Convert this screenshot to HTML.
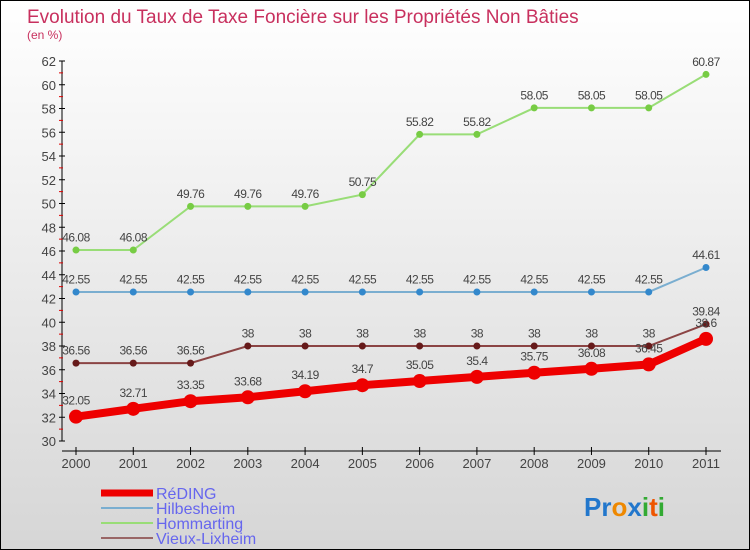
<!DOCTYPE html>
<html><head><meta charset="utf-8"><style>
body{margin:0}
#c{width:748px;height:548px;border:1px solid #000;background:linear-gradient(#fff,#d6d6d6);position:relative;font-family:"Liberation Sans",sans-serif;overflow:hidden}
</style></head><body>
<div id="c">
<svg id="s" width="748" height="548" style="position:absolute;left:0;top:0">
<text x="26" y="22" font-size="19" fill="#c8305e">Evolution du Taux de Taxe Foncière sur les Propriétés Non Bâties</text>
<text x="26" y="38" font-size="12" fill="#c8305e">(en %)</text>
<g id="axes"></g><g id="series"></g>
<g>
<line x1="100" y1="492" x2="152" y2="492" stroke="#e00" stroke-width="7"/>
<text x="155" y="498" font-size="16" fill="#6666ee">RéDING</text>
<line x1="100" y1="507" x2="152" y2="507" stroke="#7aaed0" stroke-width="2"/>
<text x="155" y="513" font-size="16" fill="#6666ee">Hilbesheim</text>
<line x1="100" y1="522" x2="152" y2="522" stroke="#99dd77" stroke-width="2"/>
<text x="155" y="528" font-size="16" fill="#6666ee">Hommarting</text>
<line x1="100" y1="537" x2="152" y2="537" stroke="#996666" stroke-width="2"/>
<text x="155" y="543" font-size="16" fill="#6666ee">Vieux-Lixheim</text>
</g>
<text x="583" y="515" font-size="26" font-weight="bold"><tspan fill="#2277cc">Pr</tspan><tspan fill="#ee8800">o</tspan><tspan fill="#2277cc">x</tspan><tspan fill="#33aa33">i</tspan><tspan fill="#ee5500">t</tspan><tspan fill="#33aa33">i</tspan></text>
</svg></div>
<script>
const years=[2000,2001,2002,2003,2004,2005,2006,2007,2008,2009,2010,2011];
const reding=[32.05,32.71,33.35,33.68,34.19,34.7,35.05,35.4,35.75,36.08,36.45,38.6];
const hilbesheim=[42.55,42.55,42.55,42.55,42.55,42.55,42.55,42.55,42.55,42.55,42.55,44.61];
const hommarting=[46.08,46.08,49.76,49.76,49.76,50.75,55.82,55.82,58.05,58.05,58.05,60.87];
const vieux=[36.56,36.56,36.56,38,38,38,38,38,38,38,38,39.84];
const yTicks=[30,32,34,36,38,40,42,44,46,48,50,52,54,56,58,60,62];
const NS='http://www.w3.org/2000/svg';
const X=i=>75+i*(630/11), Y=v=>440-(v-30)*(380/32);
function mk(t,a,p){const e=document.createElementNS(NS,t);for(const k in a)e.setAttribute(k,a[k]);p.appendChild(e);return e;}
const ax=document.getElementById('axes'), sg=document.getElementById('series');
const ya=mk('line',{x1:61,y1:Y(62),x2:61,y2:Y(30),stroke:'#000'},ax);


yTicks.forEach(v=>{mk('line',{x1:58,y1:Y(v),x2:64,y2:Y(v),stroke:'#000'},ax);
 if(v<62)mk('line',{x1:58,y1:Y(v+1),x2:62,y2:Y(v+1),stroke:'#d00'},ax);
 const t=mk('text',{x:55,y:Y(v)+5,'font-size':13,'text-anchor':'end',fill:'#444'},ax);t.textContent=v;
 
 });
const xa=mk('line',{x1:61,y1:450,x2:720,y2:450,stroke:'#000'},ax);


years.forEach((y,i)=>{mk('line',{x1:X(i),y1:446,x2:X(i),y2:454,stroke:'#000'},ax);
 const t=mk('text',{x:X(i),y:467,'font-size':13,'text-anchor':'middle',fill:'#444'},ax);t.textContent=y;
 
 });
function series(d,name,col,dot,w,r){
 const g=mk('g',{},sg);
 
 
 mk('polyline',{points:d.map((v,i)=>X(i)+','+Y(v)).join(' '),fill:'none',stroke:col,'stroke-width':w},g);
 d.forEach((v,i)=>{const c=mk('circle',{cx:X(i),cy:Y(v),r:r,fill:dot},g);
  
  
  const t=mk('text',{x:X(i),y:Y(v)-(r+5),'font-size':12,'text-anchor':'middle',fill:'#444','letter-spacing':'-0.5'},g);t.textContent=v;
  
  });
}
series(hommarting,'hommarting-series','#99dd77','#77cc44',2,3.5);
series(hilbesheim,'hilbesheim-series','#7aaed0','#3388cc',2,3.5);
series(vieux,'vieux-lixheim-series','#8b4444','#661a1a',2,3.5);
series(reding,'reding-series','#ee0000','#ee0000',8,7);
</script>
</body></html>
